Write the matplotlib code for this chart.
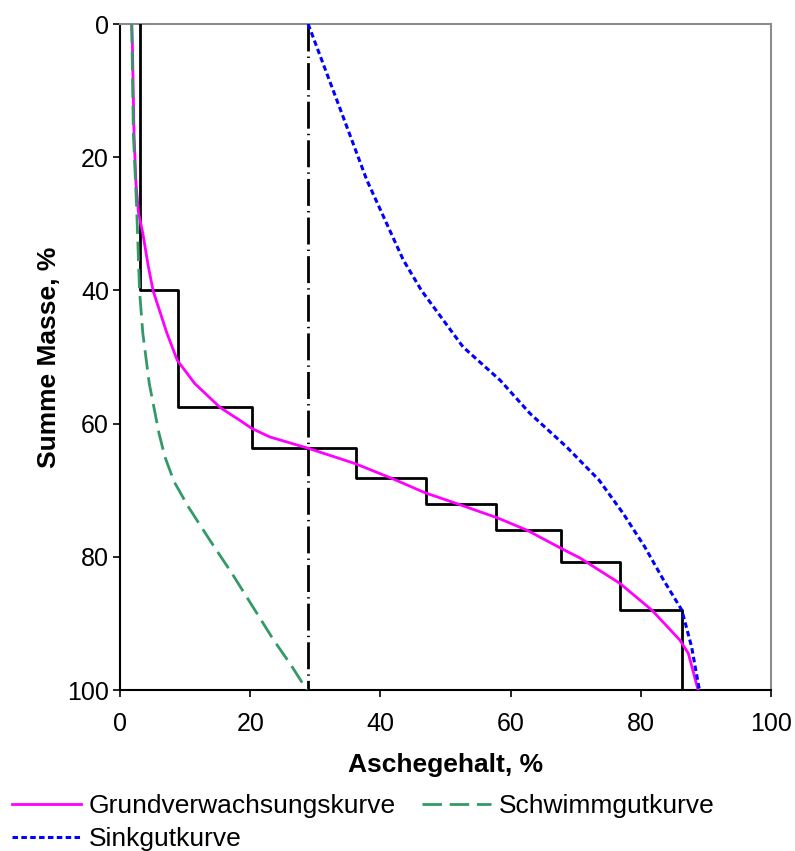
import matplotlib
matplotlib.use("Agg")
import matplotlib.pyplot as plt

plt.rcParams['font.family'] = ['Liberation Sans', 'DejaVu Sans']

# Histogram steps (ash content per fraction, cumulative mass boundaries)
step_ash = [3.1, 8.9, 20.3, 36.2, 47.0, 57.8, 67.7, 76.8, 86.4]
step_mass = [0, 40, 57.5, 63.7, 68.1, 72.0, 76.0, 80.8, 88.0, 100]

# Grundverwachsungskurve
grund_ash = [1.8, 1.9, 2.15, 2.45, 2.85, 3.5, 4.35, 5.1, 7.2, 8.8, 11.5, 15.4, 18.4,
             20.2, 23.0, 28.9, 36.1, 41.7, 46.9, 51.7, 58.1, 62.5, 67.7, 70.7,
             76.8, 81.7, 86.0, 87.3, 88.8]
grund_mass = [0, 2.9, 16.4, 23.9, 28.4, 31.4, 36.4, 40.1, 46.4, 50.5, 54.0, 57.6, 59.5,
              60.7, 62.0, 63.7, 66.0, 68.2, 70.4, 72.0, 74.2, 76.0, 78.7, 80.2,
              84.0, 88.0, 92.5, 94.5, 100]

# Schwimmgutkurve
schwimm_ash = [1.8, 2.05, 2.55, 3.0, 3.5, 4.5, 6.0, 6.9, 8.3, 10.5, 13.8, 17.2, 20.4, 23.6, 26.3, 28.7]
schwimm_mass = [0, 16.4, 27.4, 40.0, 46.4, 54.0, 61.5, 65.0, 68.7, 72.5, 77.5, 82.5, 87.5, 92.5, 96.3, 100]

# Sinkgutkurve
sink_ash = [28.9, 33.3, 37.9, 43.5, 46.3, 52.7, 58.4, 63.0, 68.6, 73.6, 77.3, 80.6,
            83.5, 86.3, 87.8, 89.0]
sink_mass = [0, 11.4, 23.4, 35.4, 40.0, 48.5, 53.5, 58.5, 63.5, 68.5, 73.5, 78.5,
             83.5, 88.0, 93.5, 100]

# Trennschnitt
cut_ash = 28.9

fig = plt.figure(figsize=(7.95, 8.51), dpi=100)
ax = fig.add_axes([120/795, 1-690/851, (771-120)/795, (690-24)/851])

# step outline
sx, sy = [], []
for i, a in enumerate(step_ash):
    sx += [a, a]
    sy += [step_mass[i], step_mass[i+1]]
ax.plot(sx, sy, color='black', lw=2.0, zorder=3)

ax.plot([cut_ash, cut_ash], [0, 100], color='black', lw=2.0,
        linestyle=(0, (9.7, 1.85, 0.5, 1.85)), zorder=3)

l1, = ax.plot(grund_ash, grund_mass, color='#ff00ff', lw=2.0, zorder=4,
              label='Grundverwachsungskurve')
l2, = ax.plot(schwimm_ash, schwimm_mass, color='#339966', lw=2.0, zorder=4,
              linestyle=(0, (7, 2.8)), label='Schwimmgutkurve')
l3, = ax.plot(sink_ash, sink_mass, color='#0000ff', lw=2.2, zorder=4,
              linestyle=(0, (1.8, 1.1)), label='Sinkgutkurve')

ax.set_xlim(0, 100)
ax.set_ylim(100, 0)
ax.set_xticks([0, 20, 40, 60, 80, 100])
ax.set_yticks([0, 20, 40, 60, 80, 100])
ax.tick_params(axis='both', labelsize=18, direction='out', length=5, width=1.2, colors='black')
ax.tick_params(axis='x', pad=11)
ax.tick_params(axis='y', pad=3)
for s in ['top', 'right']:
    ax.spines[s].set_color('#8c8c8c')
    ax.spines[s].set_linewidth(1.5)
for s in ['left', 'bottom']:
    ax.spines[s].set_color('black')
    ax.spines[s].set_linewidth(1.5)

ax.set_xlabel('Aschegehalt, %', fontsize=19, fontweight='bold', labelpad=12)
ax.set_ylabel('Summe Masse, %', fontsize=19, fontweight='bold', labelpad=4)

fig.legend(handles=[l1, l3, l2], loc='upper left', bbox_to_anchor=(0.015, 1-794/851),
           ncol=2, frameon=False, fontsize=19, handlelength=2.6, handletextpad=0.3,
           columnspacing=1.0, labelspacing=0.35, borderaxespad=0, borderpad=0)

fig.savefig('out.png', dpi=100)
